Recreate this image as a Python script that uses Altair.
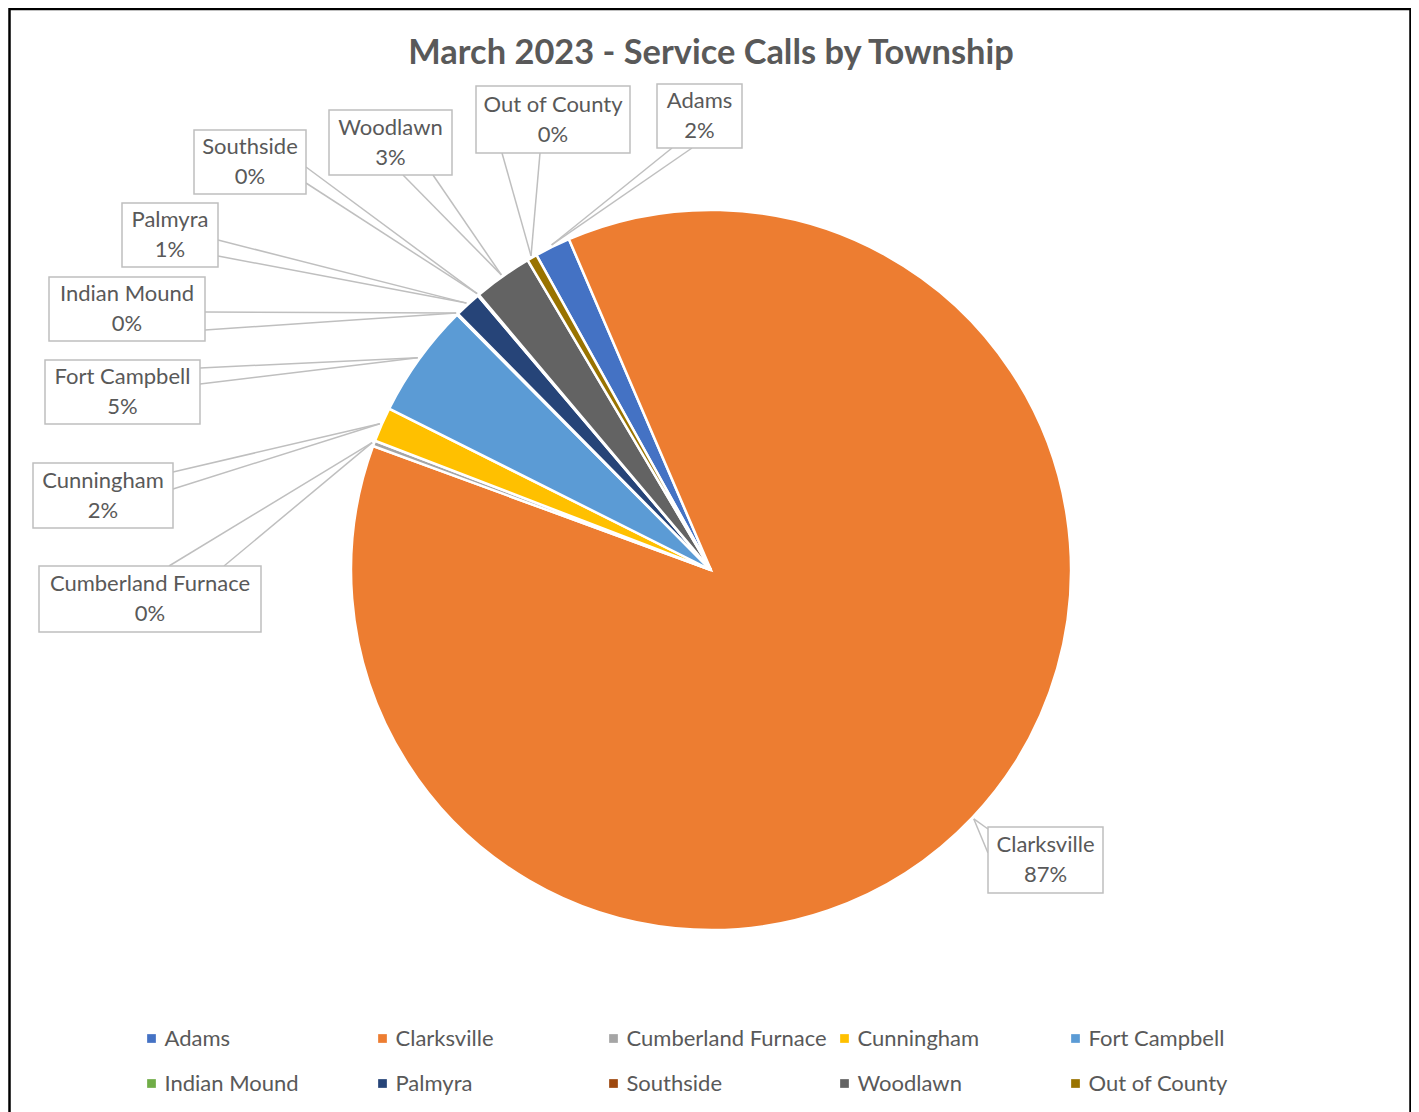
import math
import altair as alt
import pandas as pd

# ---------------- data ----------------
townships = ["Adams", "Clarksville", "Cumberland Furnace", "Cunningham", "Fort Campbell",
             "Indian Mound", "Palmyra", "Southside", "Woodlawn", "Out of County"]
calls = [32, 1741, 5, 31, 103, 1, 24, 1, 53, 9]
colors = ["#4472C4", "#ED7D31", "#A5A5A5", "#FFC000", "#5B9BD5",
          "#70AD47", "#264478", "#9E480E", "#636363", "#997300"]
TITLE = "March 2023 - Service Calls by Township"

# ---------------- layout ----------------
PL, PR, PT = 1.5, 0.5, 1   # padding
W, H = 1401, 1125          # view size (px); bottom runs past the window like the reference
X0, Y0 = 8 + PL, 8 + PT    # page position of the view's top-left corner
CX, CY, R = 711, 570, 360  # pie centre / radius (page px)
START_DEG = -29.0          # angle of first slice (clockwise from 12 o'clock)
TEXT = "#595959"
LINE = "#BFBFBF"
FONT = "Lato"
FS = 22

# callout boxes: x0, y0, x1, y1, pointer base point A, pointer base point B (page px)
callouts = {
    "Adams": (657, 84, 742, 148, (672, 148), (692, 148)),
    "Out of County": (476, 86, 630, 153, (502, 153), (540, 153)),
    "Woodlawn": (329, 110, 452, 175, (403, 175), (433, 175)),
    "Southside": (194, 130, 306, 194, (306, 167), (306, 183)),
    "Palmyra": (122, 203, 218, 267, (218, 240), (218, 256)),
    "Indian Mound": (49, 277, 205, 341, (205, 312), (205, 330)),
    "Fort Campbell": (45, 360, 200, 424, (200, 368), (200, 384)),
    "Cunningham": (33, 463, 173, 528, (173, 472), (173, 489)),
    "Cumberland Furnace": (39, 566, 261, 632, (169, 566), (224, 566)),
    "Clarksville": (988, 827, 1103, 893, (988, 829), (988, 853)),
}

total = sum(calls)
pie_df = pd.DataFrame({"township": townships, "calls": calls, "idx": range(len(townships))})

# slice mid-angles -> callout tips
rule_rows, box_rows, text_rows = [], [], []
cum = 0
for name, v in zip(townships, calls):
    mid = math.radians(START_DEG + (cum + v / 2) / total * 360)
    cum += v
    tx = CX + (R + 2) * math.sin(mid)
    ty = CY - (R + 2) * math.cos(mid)
    x0, y0, x1, y1, a, b = callouts[name]
    for p in (a, b):
        rule_rows.append({"x": p[0], "y": p[1], "x2": tx, "y2": ty})
    box_rows.append({"x": x0, "y": y0, "x2": x1, "y2": y1})
    pct = f"{round(v / total * 100)}%"
    cxb, cyb = (x0 + x1) / 2, (y0 + y1) / 2
    text_rows.append({"x": cxb, "y": cyb - 15, "t": name})
    text_rows.append({"x": cxb, "y": cyb + 15, "t": pct})

rules_df = pd.DataFrame(rule_rows)
boxes_df = pd.DataFrame(box_rows)
texts_df = pd.DataFrame(text_rows)

xs = alt.Scale(domain=[X0, X0 + W], nice=False, zero=False)
ys = alt.Scale(domain=[Y0, Y0 + H], nice=False, zero=False, reverse=True)

start = math.radians(START_DEG)
pie = alt.Chart(pie_df).mark_arc(radius=R, stroke="white", strokeWidth=2.5).encode(
    theta=alt.Theta("calls:Q", stack=True,
                    scale=alt.Scale(domain=[0, total], nice=False, range=[start, start + 2 * math.pi])),
    color=alt.Color("township:N", scale=alt.Scale(domain=townships, range=colors),
                    legend=alt.Legend(title=None, orient="none", legendX=131, legendY=1018.5,
                                      direction="horizontal", columns=5, symbolType="square",
                                      symbolSize=76, symbolStrokeWidth=0, labelFont=FONT,
                                      labelFontSize=FS, labelColor=TEXT, labelOffset=2,
                                      columnPadding=6, rowPadding=23, gridAlign="all",
                                      labelLimit=400, padding=0)),
    order=alt.Order("idx:Q"),
    x=alt.value(CX - X0),
    y=alt.value(CY - Y0),
)

rules = alt.Chart(rules_df).mark_rule(color=LINE, strokeWidth=1.5).encode(
    x=alt.X("x:Q", scale=xs, axis=None),
    y=alt.Y("y:Q", scale=ys, axis=None),
    x2="x2:Q", y2="y2:Q",
)

boxes = alt.Chart(boxes_df).mark_rect(fill="white", stroke=LINE, strokeWidth=1.5).encode(
    x=alt.X("x:Q", scale=xs, axis=None),
    y=alt.Y("y:Q", scale=ys, axis=None),
    x2="x2:Q", y2="y2:Q",
)

texts = alt.Chart(texts_df).mark_text(font=FONT, fontSize=FS, color=TEXT).encode(
    x=alt.X("x:Q", scale=xs, axis=None),
    y=alt.Y("y:Q", scale=ys, axis=None),
    text="t:N",
)

title = alt.Chart(pd.DataFrame({"t": [TITLE]})).mark_text(
    font=FONT, fontSize=34.4, fontWeight="bold", color=TEXT).encode(
    x=alt.value(CX - X0), y=alt.value(54 - Y0), text="t:N")

frame = alt.Chart(pd.DataFrame({"f": [0]})).mark_rect(
    filled=False, stroke="black", strokeWidth=2.5).encode(
    x=alt.value(0), x2=alt.value(W), y=alt.value(0), y2=alt.value(H + 30))

chart = alt.layer(pie, rules, boxes, texts, title, frame).properties(
    width=W, height=H, padding={"left": PL, "top": PT, "right": PR, "bottom": 0},
    autosize=alt.AutoSizeParams(type="none"),
).configure_view(strokeWidth=0)

chart.save("out.html", embed_options={"renderer": "svg", "actions": False})
